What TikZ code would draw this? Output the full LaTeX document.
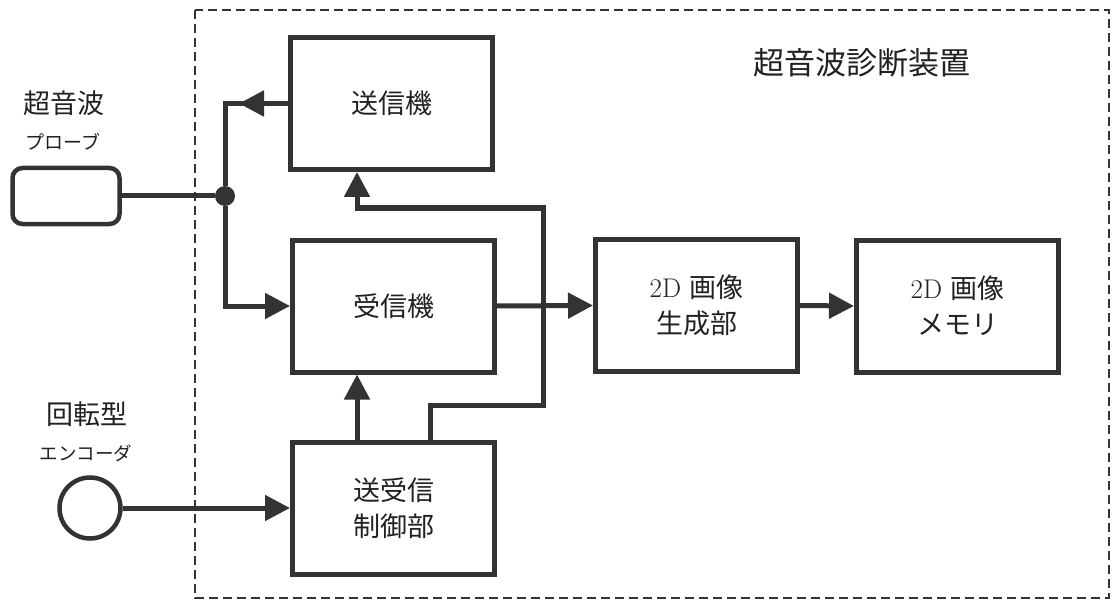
\documentclass[tikz,border=0pt]{standalone}
\usepackage{fontspec}
\newfontfamily\jp{Noto Sans CJK JP}
\usetikzlibrary{arrows.meta,calc}
\definecolor{lc}{rgb}{0.2,0.2,0.2}
\definecolor{tc}{rgb}{0.13,0.13,0.13}
\begin{document}
\begin{tikzpicture}[x=1pt,y=-1pt,
  box/.style={draw=lc, line width=5pt, minimum width=202pt, minimum height=132pt,
    align=center, text=tc, font=\fontsize{27}{36}\selectfont, inner sep=0pt},
  conn/.style={draw=lc, line width=5pt},
  arr/.style={conn, -{Triangle[length=25pt,width=25pt]}},
  lbl/.style={text=tc, inner sep=0pt},
  frame/.style={draw=lc, line width=1.8pt, dash pattern=on 9pt off 5pt}
  ]
\useasboundingbox[fill=white] (0,0) rectangle (1113,604);

% frame
\draw[frame] (195,10) rectangle (1109,598);

% blocks
\node[box] (tx)  at (391.5,103.5) {\jp 送信機};
\node[box] (rx)  at (393.5,306)   {\jp 受信機};
\node[box] (ctl) at (393.5,508)   {\jp 送受信\\\jp 制御部};
\node[box] (gen) at (696.5,305.5) {2D \jp 画像\\\jp 生成部};
\node[box] (mem) at (957.5,306)   {2D \jp 画像\\\jp メモリ};

% external devices
\node[draw=lc, line width=4.5pt, rounded corners=10pt, minimum width=107pt,
      minimum height=56pt, inner sep=0pt] (probe) at (66,196) {};
\node[circle, fill=lc, minimum size=20pt, inner sep=0pt] (dot) at (225,196) {};
\node[circle, draw=lc, line width=4.5pt, minimum size=61pt, inner sep=0pt] (enc) at (90,508) {};

% labels
\node[lbl, font=\jp\fontsize{27}{27}\selectfont] (l1) at (64,103) {超音波};
\node[lbl, font=\jp\fontsize{19}{19}\selectfont] (l2) at (63,142) {プローブ};
\node[lbl, font=\jp\fontsize{27}{27}\selectfont] (l3) at (87,414) {回転型};
\node[lbl, font=\jp\fontsize{18.5}{18.5}\selectfont] (l4) at (86,453) {エンコーダ};
\node[lbl, font=\jp\fontsize{31}{31}\selectfont] (title) at (862,63) {超音波診断装置};

% helper coordinates
\coordinate (xa) at (357,0);
\coordinate (xb) at (430,0);
\coordinate (xc) at (543,0);
\coordinate (ya) at (0,208);
\coordinate (yb) at (0,405);

% connectors
\draw[conn] (tx.west) -- (tx.west -| dot) -- (dot);
\draw[arr] (tx.west) -- ($(tx.west -| dot)+(14,0)$);
\draw[conn] (probe.east) -- (dot);
\draw[arr] (dot) -- (dot |- rx.west) -- (rx.west);
\draw[arr] (enc.east) -- (ctl.west);
\draw[arr] (ctl.north -| xa) -- (rx.south -| xa);
\draw[arr] (ctl.north -| xb) -- (xb |- yb) -- (xc |- yb) -- (xc |- ya) -- (xa |- ya) -- (tx.south -| xa);
\draw[arr] (rx.east) -- (gen.west);
\draw[arr] (gen.east) -- (mem.west);
\end{tikzpicture}
\end{document}
